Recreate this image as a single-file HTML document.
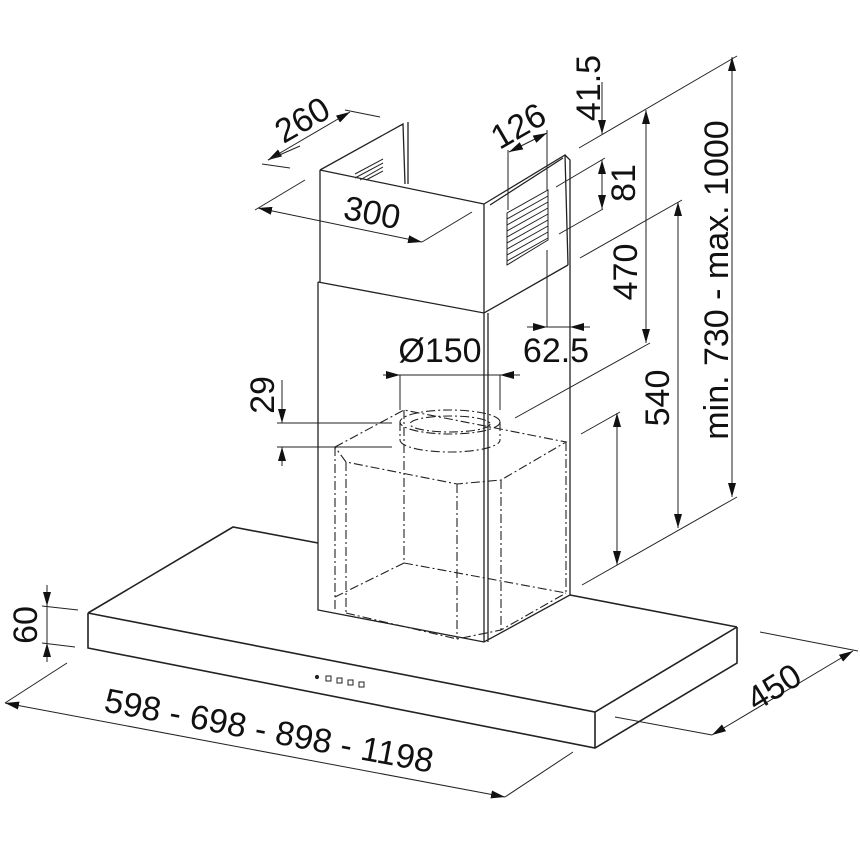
<!DOCTYPE html>
<html><head><meta charset="utf-8"><style>
html,body{margin:0;padding:0;background:#fff;}
svg{display:block;}
text{font-family:"Liberation Sans",Arial,sans-serif;font-size:34px;fill:#111;}
</style></head><body>
<svg width="860" height="860" viewBox="0 0 860 860" xmlns="http://www.w3.org/2000/svg">
<defs>
<marker id="a" viewBox="0 0 14 8" refX="14" refY="4" markerWidth="14" markerHeight="8" markerUnits="userSpaceOnUse" orient="auto-start-reverse">
<path d="M0,0 L14,4 L0,8 z" fill="#111"/></marker>
</defs>
<g stroke="#222" stroke-width="1.3" fill="none">
<path d="M88,613 L595,712 L737,627 M88,613 L88,648 L595,748 L737,663 L737,627 M595,712 L595,748 M88,613 L233,527 L318,543 M570,595 L737,627" stroke-width="1.6"/>
<path d="M318,282 L318,610 L484,642 L570,595 L570,265 M484,313 L484,642 M488,313 L488,642 M318,282 L484,313 L568,265"/>
<path d="M320,170 L320,282 M320,170 L484,204 L484,313 M484,204 L565,155 L568,265 M320,170 L403,124 L405,184 M408,122 L408,184 M490,205 L563,158 M565,155 L570,160 L570,265"/>
<g stroke-width="1">
<path d="M507,213 L548,190 L548,240 L507,265 z"/>
<path d="M507,219 L548,196 M507,225 L548,202 M507,231 L548,208 M507,237 L548,214 M507,243 L548,220 M507,249 L548,226 M507,255 L548,232 M507,261 L548,238"/>
<path d="M355,178 L383,163 M355,174 L383,159 M360,180 L383,167 M366,180 L383,171"/>
</g>
<g stroke-dasharray="9 3 2 3" stroke-width="1.1">
<path d="M335,447 L404,410 L566,442 L501,480 L457,484 L346,462 L335,447"/>
<path d="M335,447 L335,610 M346,462 L346,613 M457,484 L457,639 M501,480 L501,630 M404,410 L404,563 M566,442 L566,593"/>
<path d="M404,563 L566,593 M404,563 L335,597 M346,613 L457,639 L501,630 L566,593"/>
<ellipse cx="450" cy="422" rx="50" ry="12"/>
<ellipse cx="450" cy="424" rx="40" ry="8"/>
<path d="M400,422 L400,440 M500,422 L500,440 M400,440 A50,12 0 0 0 500,440"/>
</g>
</g>
<g fill="none" stroke="#222" stroke-width="1">
<circle cx="317" cy="677" r="1.6" fill="#222"/>
<rect x="326" y="676" width="5" height="5"/><rect x="337" y="678" width="5" height="5"/><rect x="348" y="680" width="5" height="5"/><rect x="359" y="682" width="5" height="5"/>
</g>
<g stroke="#222" stroke-width="1" fill="none">
<path d="M268,160 L350,112" marker-start="url(#a)" marker-end="url(#a)"/>
<path d="M262,164 L290,168 M345,110 L380,117 M268,160 L300,146"/>
<path d="M258,208 L422,242" marker-start="url(#a)" marker-end="url(#a)"/>
<path d="M255,210 L305,180 M422,242 L472,212"/>
<path d="M509,152 L547,133" marker-start="url(#a)" marker-end="url(#a)"/>
<path d="M508,150 L508,210 M547,130 L547,190 M547,250 L547,327"/>
<path d="M527,327 L547,327" marker-end="url(#a)"/>
<path d="M590,327 L570,327" marker-end="url(#a)"/>
<path d="M547,327 L570,327"/>
<path d="M383,375 L400,375" marker-end="url(#a)"/>
<path d="M520,375 L500,375" marker-end="url(#a)"/>
<path d="M400,375 L500,375 M400,375 L400,410 M500,375 L500,410"/>
<path d="M282,380 L282,423" marker-end="url(#a)"/>
<path d="M282,466 L282,447" marker-end="url(#a)"/>
<path d="M277,423 L392,423 M277,447 L392,447"/>
<path d="M47,585 L47,606" marker-end="url(#a)"/>
<path d="M47,662 L47,643" marker-end="url(#a)"/>
<path d="M47,606 L47,643 M42,606 L78,610 M42,643 L75,647"/>
<path d="M5,703 L505,797" marker-start="url(#a)" marker-end="url(#a)"/>
<path d="M5,703 L67,663 M505,797 L573,752"/>
<path d="M712,735 L853,651" marker-start="url(#a)" marker-end="url(#a)"/>
<path d="M760,632 L858,651 M615,717 L712,735"/>
<path d="M579,148 L737,56 M556,187 L605,158 M559,234 L603,209 M515,418 L650,343 M580,258 L682,200 M581,434 L620,412 M582,585 L737,497"/>
<path d="M602,82 L602,134" marker-end="url(#a)"/>
<path d="M602,185 L602,160" marker-end="url(#a)"/>
<path d="M602,185 L602,209" marker-end="url(#a)"/>
<path d="M646,110 L646,343" marker-start="url(#a)" marker-end="url(#a)"/>
<path d="M678,202 L678,528" marker-start="url(#a)" marker-end="url(#a)"/>
<path d="M732,57 L732,497" marker-start="url(#a)" marker-end="url(#a)"/>
<path d="M617,413 L617,565" marker-start="url(#a)" marker-end="url(#a)"/>
</g>
<text transform="translate(308,130) rotate(-30)" text-anchor="middle">260</text>
<text transform="translate(370,224) rotate(11)" text-anchor="middle">300</text>
<text transform="translate(524,136) rotate(-30)" text-anchor="middle">126</text>
<text x="440" y="362" text-anchor="middle">Ø150</text>
<text x="556" y="362" text-anchor="middle">62.5</text>
<text transform="translate(274,395) rotate(-90)" text-anchor="middle">29</text>
<text transform="translate(37,625) rotate(-90)" text-anchor="middle">60</text>
<text transform="translate(267,742) rotate(10.6)" text-anchor="middle">598 - 698 - 898 - 1198</text>
<text transform="translate(780,697) rotate(-32)" text-anchor="middle">450</text>
<text transform="translate(600,88) rotate(-90)" text-anchor="middle">41.5</text>
<text transform="translate(635,183) rotate(-90)" text-anchor="middle">81</text>
<text transform="translate(637,272) rotate(-90)" text-anchor="middle">470</text>
<text transform="translate(669,398) rotate(-90)" text-anchor="middle">540</text>
<text transform="translate(728,280) rotate(-90)" text-anchor="middle">min. 730 - max. 1000</text>
</svg>
</body></html>
